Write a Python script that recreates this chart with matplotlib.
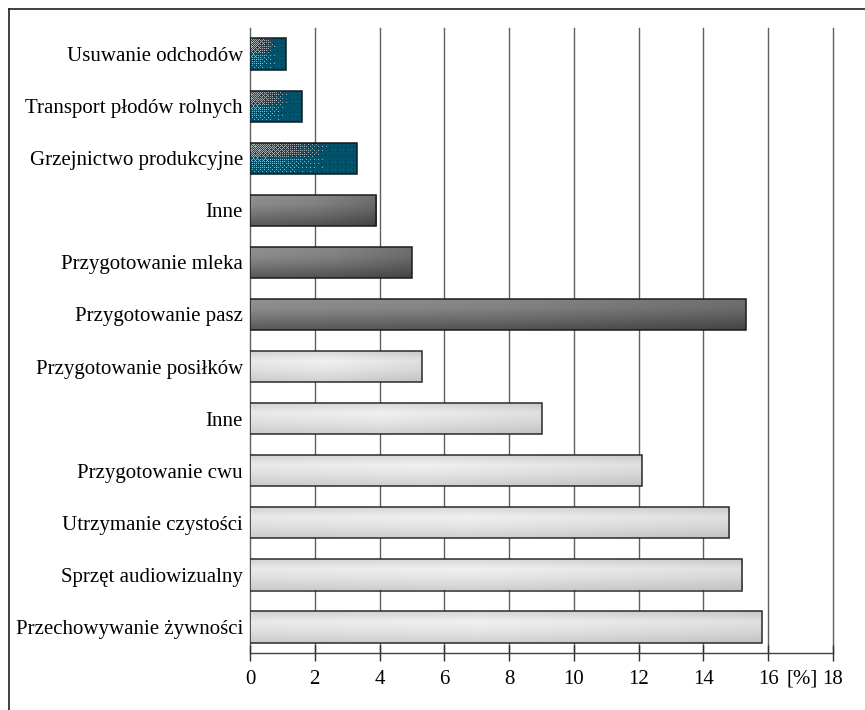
import numpy as np
import matplotlib
matplotlib.use("Agg")
import matplotlib.pyplot as plt
from matplotlib.colors import to_rgb
from matplotlib.lines import Line2D
from matplotlib.transforms import blended_transform_factory

# Share of energy use by purpose [%]
categories = [
    "Usuwanie odchodów",
    "Transport płodów rolnych",
    "Grzejnictwo produkcyjne",
    "Inne",
    "Przygotowanie mleka",
    "Przygotowanie pasz",
    "Przygotowanie posiłków",
    "Inne",
    "Przygotowanie cwu",
    "Utrzymanie czystości",
    "Sprzęt audiowizualny",
    "Przechowywanie żywności",
]
values = [1.1, 1.6, 3.3, 3.9, 5.0, 15.3, 5.3, 9.0, 12.1, 14.8, 15.2, 15.8]
groups = ["teal"] * 3 + ["dark"] * 3 + ["light"] * 6
x_ticks = [0, 2, 4, 6, 8, 10, 12, 14, 16, 18]
unit_label = "[%]"

plt.rcParams["font.family"] = ["Liberation Serif", "DejaVu Serif"]

W, H, DPI = 865, 710, 100
fig = plt.figure(figsize=(W / DPI, H / DPI), dpi=DPI)
ax = fig.add_axes([250 / W, (H - 653) / H, (833 - 250) / W, (653 - 28) / H])

BAR_H = 0.6
FS = 15


def bayer(n):
    m = np.array([[0, 2], [3, 1]])
    while m.shape[0] < n:
        m = np.block([[4 * m, 4 * m + 2], [4 * m + 3, 4 * m + 1]])
    return (m + 0.5) / m.size


def lerp_profile(stops, t):
    pos = np.array([s[0] for s in stops])
    cols = np.array([s[1] for s in stops])
    return np.stack([np.interp(t, pos, cols[:, c]) for c in range(3)], axis=-1)


def fill_image(kind, wpx, hpx):
    xs = np.linspace(0, 1, wpx)
    ys = np.linspace(0, 1, hpx)
    if kind == "teal":
        base = np.array(to_rgb("#03526b"))
        speck = np.array(to_rgb("#a4acb0"))
        dark = np.array(to_rgb("#022a36"))
        img = np.tile(base, (hpx, wpx, 1))
        bm = bayer(8)
        thr = bm[np.arange(hpx)[:, None] % 8, np.arange(wpx)[None, :] % 8]
        dens = np.clip(0.6 * (1 - xs[None, :] / 0.75), 0, 1) * \
            np.clip(1.25 - 1.1 * ys[:, None], 0, 1)
        img[thr < dens] = speck
        # sparse dark flecks on the plain part of the fill
        thr2 = bm[(np.arange(hpx)[:, None] + 3) % 8, (np.arange(wpx)[None, :] + 5) % 8]
        img[(thr2 < 0.04) & (thr >= dens)] = dark
        return img
    if kind == "dark":
        vert = lerp_profile([(0, (0.56, 0.56, 0.56)), (0.35, (0.53, 0.53, 0.53)),
                             (0.75, (0.41, 0.41, 0.41)), (1, (0.34, 0.34, 0.34))], ys)
        horz = np.interp(xs, [0, 0.5, 1], [1.02, 0.95, 0.78])
    else:
        vert = lerp_profile([(0, (0.80, 0.80, 0.80)), (0.35, (0.90, 0.90, 0.90)),
                             (0.7, (0.84, 0.84, 0.84)), (1, (0.78, 0.78, 0.78))], ys)
        horz = np.interp(xs, [0, 0.45, 1], [1.02, 1.05, 0.98])
    img = vert[:, None, :] * horz[None, :, None]
    return np.clip(img, 0, 1)


edge_colors = {"teal": "#0d1a20", "dark": "#1c1c1c", "light": "#2a2a2a"}

ypos = np.arange(len(categories))
bars = ax.barh(ypos, values, height=BAR_H, facecolor="none", zorder=3, linewidth=1.1)
px_per_unit = (833 - 250) / 18.0
px_per_row = (653 - 28) / 12.0
for bar, val, y, kind in zip(bars, values, ypos, groups):
    bar.set_edgecolor(edge_colors[kind])
    wpx = max(int(round(val * px_per_unit)), 2)
    hpx = int(round(BAR_H * px_per_row))
    img = fill_image(kind, wpx, hpx)
    im = ax.imshow(img, extent=(0, val, y + BAR_H / 2, y - BAR_H / 2),
                   aspect="auto", interpolation="nearest", zorder=2)
    im.set_clip_path(bar)

ax.set_xlim(0, 18)
ax.set_ylim(11.5, -0.5)
ax.set_aspect("auto")

ax.set_xticks(x_ticks)
ax.set_xticklabels([str(t) for t in x_ticks])
ax.set_yticks(ypos)
ax.set_yticklabels(categories)

# vertical grid lines at every tick, including both ends of the axis
for t in x_ticks:
    ax.axvline(t, color="#606060", linewidth=1.0, zorder=1, clip_on=False)

for side in ("top", "right", "left"):
    ax.spines[side].set_visible(False)
ax.spines["bottom"].set_color("#404040")
ax.spines["bottom"].set_linewidth(1.0)
ax.spines["bottom"].set_zorder(4)

ax.tick_params(axis="x", direction="inout", length=12, width=1.0, color="#303030",
               labelsize=FS, pad=6, labelcolor="black")
ax.tick_params(axis="y", length=0, pad=5, labelsize=FS)

tr = blended_transform_factory(ax.transData, ax.transAxes)
ax.text(17.05, -26 / (653 - 28), unit_label, transform=tr, ha="center",
        va="center", fontsize=FS)

# frame around the figure (top and left edges)
fig.add_artist(Line2D([9 / W, 1.0], [1 - 8.5 / H, 1 - 8.5 / H], color="#202020",
                      linewidth=1.2, transform=fig.transFigure))
fig.add_artist(Line2D([9 / W, 9 / W], [0.0, 1 - 8.5 / H], color="#202020",
                      linewidth=1.2, transform=fig.transFigure))

fig.savefig("out.png", dpi=DPI)
